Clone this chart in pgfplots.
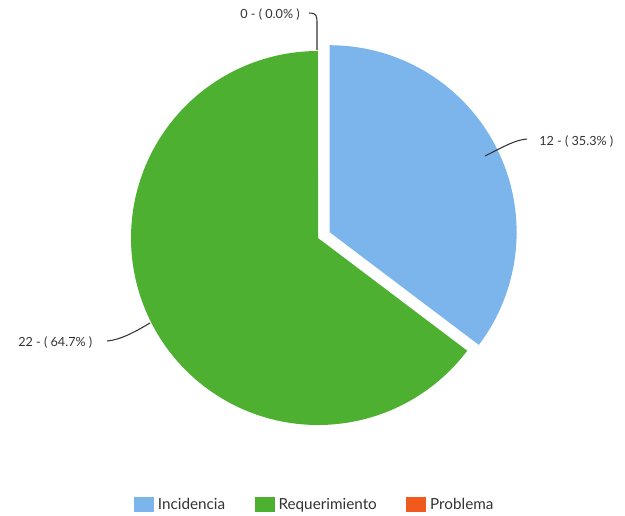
\documentclass[border=0pt]{standalone}
\usepackage{pgfplots}
\pgfplotsset{compat=1.18}
\usepackage{fontspec}
\setmainfont{Lato}
\definecolor{cInc}{HTML}{7CB5EC}
\definecolor{cReq}{HTML}{4DB030}
\definecolor{cPro}{HTML}{F05A1E}
\definecolor{txt}{HTML}{333333}
\begin{document}
\begin{tikzpicture}
% data
\def\vInc{12}\def\vReq{22}\def\vPro{0}
\pgfmathsetmacro{\tot}{\vInc+\vReq+\vPro}
\pgfmathsetmacro{\aInc}{360*\vInc/\tot}
\pgfmathsetmacro{\aReq}{360*\vReq/\tot}
\pgfmathsetmacro{\eInc}{90-\aInc}
\pgfmathsetmacro{\eReq}{\eInc-\aReq}
\pgfmathsetmacro{\mInc}{90-\aInc/2}
\pgfmathsetmacro{\bx}{318+13*cos(\mInc)}
\pgfmathsetmacro{\by}{238-13*sin(\mInc)}
\begin{axis}[
  scale only axis, width=468.75bp, height=387bp,
  xmin=0, xmax=625, ymin=0, ymax=516, y dir=reverse,
  hide axis, clip=false,
  legend style={at={(axis cs:315,505)}, anchor=center, draw=none, fill=none,
    legend columns=3, font=\fontsize{11.5}{13}\selectfont\color{txt},
    /tikz/every even column/.append style={column sep=20bp},
    /tikz/every odd column/.append style={column sep=1bp}},
  legend image code/.code={\fill[#1] (0bp,-5.5bp) rectangle (15bp,6bp);},
]
\addplot[fill=cInc, draw=none, domain=90:\eInc, samples=90, variable=\t]
  ({\bx+187*cos(t)},{\by-187*sin(t)}) -- (axis cs:\bx,\by) -- cycle;
\addlegendentry{Incidencia}
\addplot[fill=cReq, draw=none, domain=\eInc:\eReq, samples=150, variable=\t]
  ({318+187*cos(t)},{238-187*sin(t)}) -- (axis cs:318,238) -- cycle;
\addlegendentry{Requerimiento}
\addlegendimage{fill=cPro, draw=none}
\addlegendentry{Problema}
% connectors
\draw[txt, line width=0.8bp] (axis cs:309,13) .. controls (axis cs:317,13) and (axis cs:317,16) .. (axis cs:317,24) -- (axis cs:317,50);
\draw[txt, line width=0.8bp] (axis cs:485,156) .. controls (axis cs:505,146) and (axis cs:515,140) .. (axis cs:527,139);
\draw[txt, line width=0.8bp] (axis cs:107,341) .. controls (axis cs:120,340) and (axis cs:135,332) .. (axis cs:150,323);
\node[anchor=east, font=\fontsize{9.5}{11}\selectfont, text=txt, inner sep=0] at (axis cs:300,15) {0 - ( 0.0\% )};
\node[anchor=west, font=\fontsize{9.5}{11}\selectfont, text=txt, inner sep=0] at (axis cs:539,142) {12 - ( 35.3\% )};
\node[anchor=west, font=\fontsize{9.5}{11}\selectfont, text=txt, inner sep=0] at (axis cs:18,343) {22 - ( 64.7\% )};
\end{axis}
\pgfresetboundingbox
\path (current axis.south west) rectangle (current axis.north east);
\end{tikzpicture}
\end{document}
